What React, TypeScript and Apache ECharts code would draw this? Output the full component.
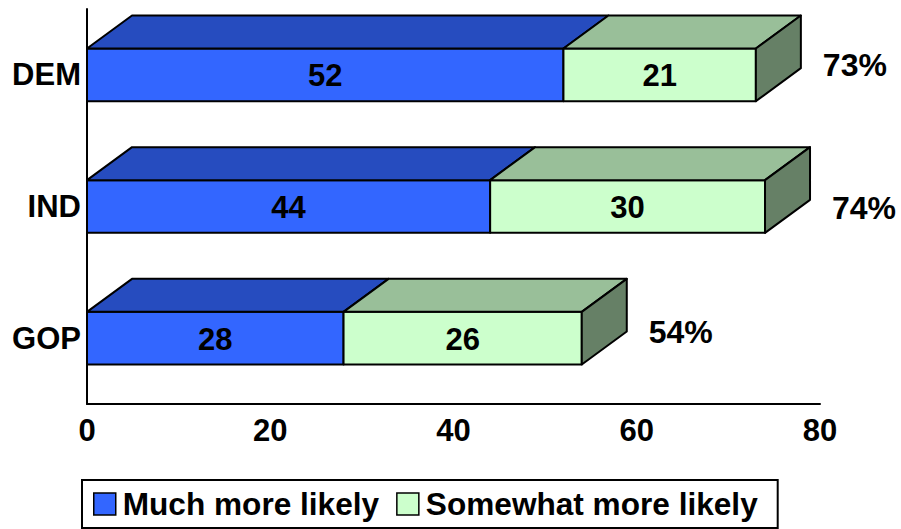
import React, { useEffect, useRef } from "react";
import * as echarts from "echarts";

const categories = ["DEM", "IND", "GOP"];
const seriesNames = ["Much more likely", "Somewhat more likely"];
const muchMoreLikely = [52, 44, 28];
const somewhatMoreLikely = [21, 30, 26];
const totalLabels = ["73%", "74%", "54%"];
const xTicks = { min: 0, max: 80, interval: 20 };

// presentation constants (not data)
const FONT = "'Liberation Sans', Arial, Helvetica, sans-serif";
const DX = 45;
const DY = 33;
const PCT_NUDGE = [-10, 1, -6];
const BLUE = "#3366FF";
const BLUE_TOP = "#264CBF";
const GREEN = "#CCFFCC";
const GREEN_TOP = "#99BF99";
const GREEN_SIDE = "#668066";

function makeRender(isLast: boolean, topColor: string, sideColor: string) {
  return (params: any, api: any) => {
    const start = api.value(0);
    const end = api.value(1);
    const cat = api.value(2);
    const val = api.value(3);
    const p0 = api.coord([start, cat]);
    const p1 = api.coord([end, cat]);
    const band = api.size([0, 1])[1];
    const h = band * 0.4;
    const cy = p0[1];
    const y0 = cy - h / 2;
    const y1 = cy + h / 2;
    const x0 = p0[0];
    const x1 = p1[0];
    const stroke = { stroke: "#000", lineWidth: 2, lineJoin: "round" };
    const children: any[] = [
      {
        type: "rect",
        shape: { x: x0, y: y0, width: x1 - x0, height: h },
        style: { fill: api.visual("color"), ...stroke },
      },
      {
        type: "polygon",
        shape: { points: [[x0, y0], [x0 + DX, y0 - DY], [x1 + DX, y0 - DY], [x1, y0]] },
        style: { fill: topColor, ...stroke },
      },
    ];
    if (isLast) {
      children.push({
        type: "polygon",
        shape: { points: [[x1, y0], [x1 + DX, y0 - DY], [x1 + DX, y1 - DY], [x1, y1]] },
        style: { fill: sideColor, ...stroke },
      });
    }
    children.push({
      type: "text",
      x: (x0 + x1) / 2,
      y: cy + 1,
      style: {
        text: String(val),
        fill: "#000",
        fontSize: 31,
        fontWeight: "bold",
        fontFamily: FONT,
        align: "center",
        verticalAlign: "middle",
      },
    });
    if (isLast) {
      const idx = params.dataIndex;
      children.push({
        type: "text",
        x: x1 + DX + 22,
        y: cy + PCT_NUDGE[idx],
        style: {
          text: totalLabels[idx],
          fill: "#000",
          fontSize: 32,
          fontWeight: "bold",
          fontFamily: FONT,
          align: "left",
          verticalAlign: "middle",
        },
      });
    }
    return { type: "group", children };
  };
}

export default function App() {
  const ref = useRef<HTMLDivElement>(null);
  useEffect(() => {
    if (!ref.current) return;
    const chart = echarts.init(ref.current, null, { renderer: "svg" });
    const blueData = categories.map((_, i) => [0, muchMoreLikely[i], i, muchMoreLikely[i]]);
    const greenData = categories.map((_, i) => [
      muchMoreLikely[i],
      muchMoreLikely[i] + somewhatMoreLikely[i],
      i,
      somewhatMoreLikely[i],
    ]);
    chart.setOption({
      animation: false,
      backgroundColor: "#fff",
      grid: { left: 87, right: 81, top: 9, height: 395, containLabel: false },
      xAxis: {
        type: "value",
        min: xTicks.min,
        max: xTicks.max,
        interval: xTicks.interval,
        axisLine: { show: true, lineStyle: { color: "#000", width: 2 } },
        axisTick: { show: false },
        splitLine: { show: false },
        axisLabel: {
          color: "#000",
          fontSize: 31,
          fontWeight: "bold",
          fontFamily: FONT,
          margin: 11,
        },
      },
      yAxis: {
        type: "category",
        data: categories,
        inverse: true,
        axisLine: { show: true, lineStyle: { color: "#000", width: 2 } },
        axisTick: { show: false },
        axisLabel: {
          color: "#000",
          fontSize: 31,
          fontWeight: "bold",
          fontFamily: FONT,
          margin: 6,
        },
      },
      legend: {
        data: seriesNames,
        left: 82,
        top: 480,
        orient: "horizontal",
        icon: "rect",
        itemWidth: 22,
        itemHeight: 22,
        itemGap: 17,
        borderColor: "#000",
        borderWidth: 2,
        borderRadius: 0,
        padding: [8, 20, 8, 11],
        itemStyle: { borderColor: "#000", borderWidth: 1.5 },
        textStyle: {
          color: "#000",
          fontSize: 31.6,
          fontWeight: "bold",
          fontFamily: FONT,
          padding: [0, 0, 0, 2],
        },
      },
      series: [
        {
          name: seriesNames[0],
          type: "custom",
          itemStyle: { color: BLUE },
          encode: { x: [0, 1], y: 2 },
          data: blueData,
          renderItem: makeRender(false, BLUE_TOP, BLUE_TOP),
        },
        {
          name: seriesNames[1],
          type: "custom",
          itemStyle: { color: GREEN },
          encode: { x: [0, 1], y: 2 },
          data: greenData,
          renderItem: makeRender(true, GREEN_TOP, GREEN_SIDE),
        },
      ],
    });
    return () => chart.dispose();
  }, []);
  return (
    <div
      ref={ref}
      style={{ position: "absolute", left: 0, top: 0, width: 901, height: 529 }}
    />
  );
}
